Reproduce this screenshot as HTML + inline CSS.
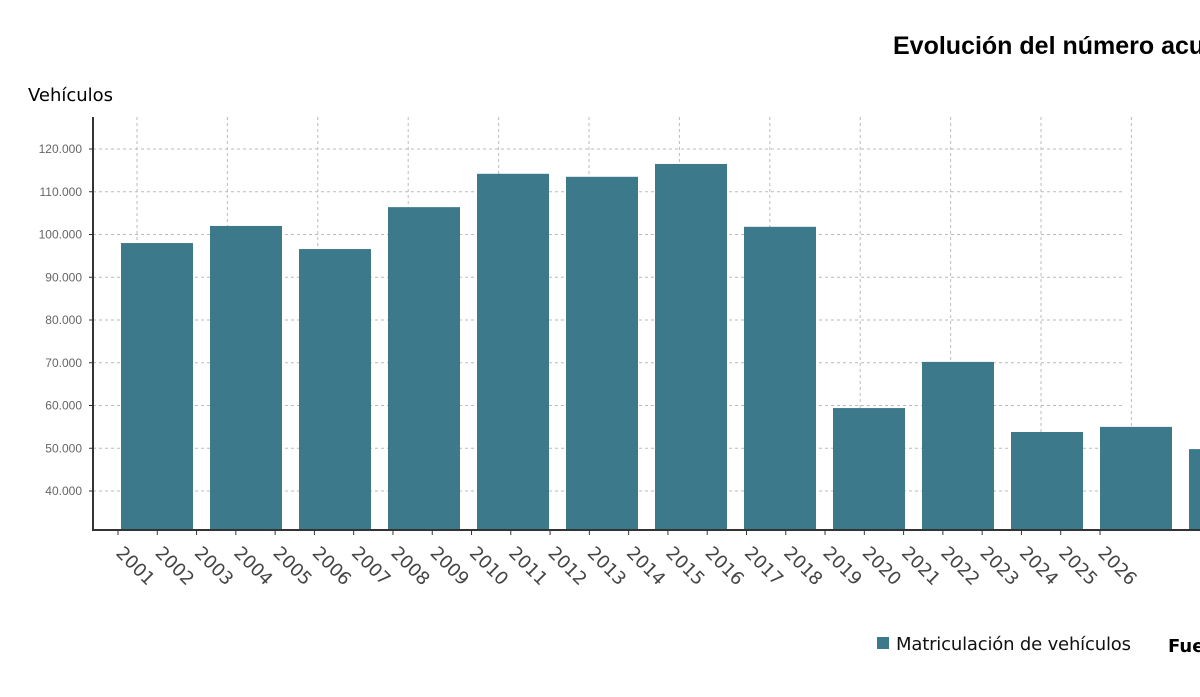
<!DOCTYPE html>
<html><head><meta charset="utf-8"><style>
body{margin:0;background:#fff;width:1200px;height:692px;overflow:hidden;font-family:"Liberation Sans",sans-serif}
</style></head><body>
<svg id="c" width="1200" height="692">
<text x="893" y="54" font-size="25" font-weight="bold" font-family="Liberation Sans, sans-serif">Evolución del número acumulado</text>
<text x="28" y="101" font-size="18" font-family="DejaVu Sans, sans-serif" textLength="85">Vehículos</text>
<g id="grid"></g><g id="bars"></g><g id="axes"></g>
<rect x="877" y="637" width="12" height="12" fill="#3c798a"/>
<text x="896" y="650" font-size="18" fill="#111" font-family="DejaVu Sans, sans-serif" textLength="235">Matriculación de vehículos</text>
<text x="1168" y="652" font-size="18" font-weight="bold" font-family="DejaVu Sans, sans-serif">Fuente</text>
</svg>
<script>
const values=[98000,102000,96600,106400,114200,113500,116500,101800,59400,70200,53800,55000,49800];
const yTicks=[40000,50000,60000,70000,80000,90000,100000,110000,120000];
const xLabels=["2001","2002","2003","2004","2005","2006","2007","2008","2009","2010","2011","2012","2013","2014","2015","2016","2017","2018","2019","2020","2021","2022","2023","2024","2025","2026"];
const NS="http://www.w3.org/2000/svg";
const y=v=>149+(120000-v)*342/80000;
const bx=i=>121+i*89;
const tx=k=>118+k*39.28;
function mk(t,a,p){const e=document.createElementNS(NS,t);for(const k in a)e.setAttribute(k,a[k]);p.appendChild(e);return e;}
const grid=document.getElementById('grid'),bars=document.getElementById('bars'),axes=document.getElementById('axes');
yTicks.forEach(v=>{
 const l=mk('line',{x1:93,x2:1125,y1:y(v),y2:y(v),stroke:'#bbb','stroke-dasharray':'3,3'},grid);
 
 
 const t=mk('text',{x:82,y:y(v)+4,'font-size':12,fill:'#666','text-anchor':'end'},axes);
 t.textContent=v.toLocaleString('de-DE');
 
 
 mk('line',{x1:89,x2:93,y1:y(v),y2:y(v),stroke:'#333'},axes);
});
for(let i=0;i<12;i++){
 const l=mk('line',{x1:137+i*90.4,x2:137+i*90.4,y1:117,y2:530,stroke:'#bbb','stroke-dasharray':'3,3'},grid);
 
 
}
values.forEach((v,i)=>{
 const r=mk('rect',{x:bx(i),y:y(v),width:72,height:530-y(v),fill:'#3c798a'},bars);
 
 
});
mk('line',{x1:93,x2:93,y1:117,y2:530,stroke:'#333','stroke-width':2},axes);
mk('line',{x1:92,x2:1200,y1:530,y2:530,stroke:'#333','stroke-width':2},axes);
xLabels.forEach((s,k)=>{
 mk('line',{x1:tx(k),x2:tx(k),y1:530,y2:535,stroke:'#333'},axes);
 const t=mk('text',{x:tx(k)-3,y:554,'font-size':18,fill:'#444','font-family':'DejaVu Sans, sans-serif',transform:`rotate(45 ${tx(k)-3} 554)`},axes);
 t.textContent=s;
 
 
});
</script>
</body></html>
